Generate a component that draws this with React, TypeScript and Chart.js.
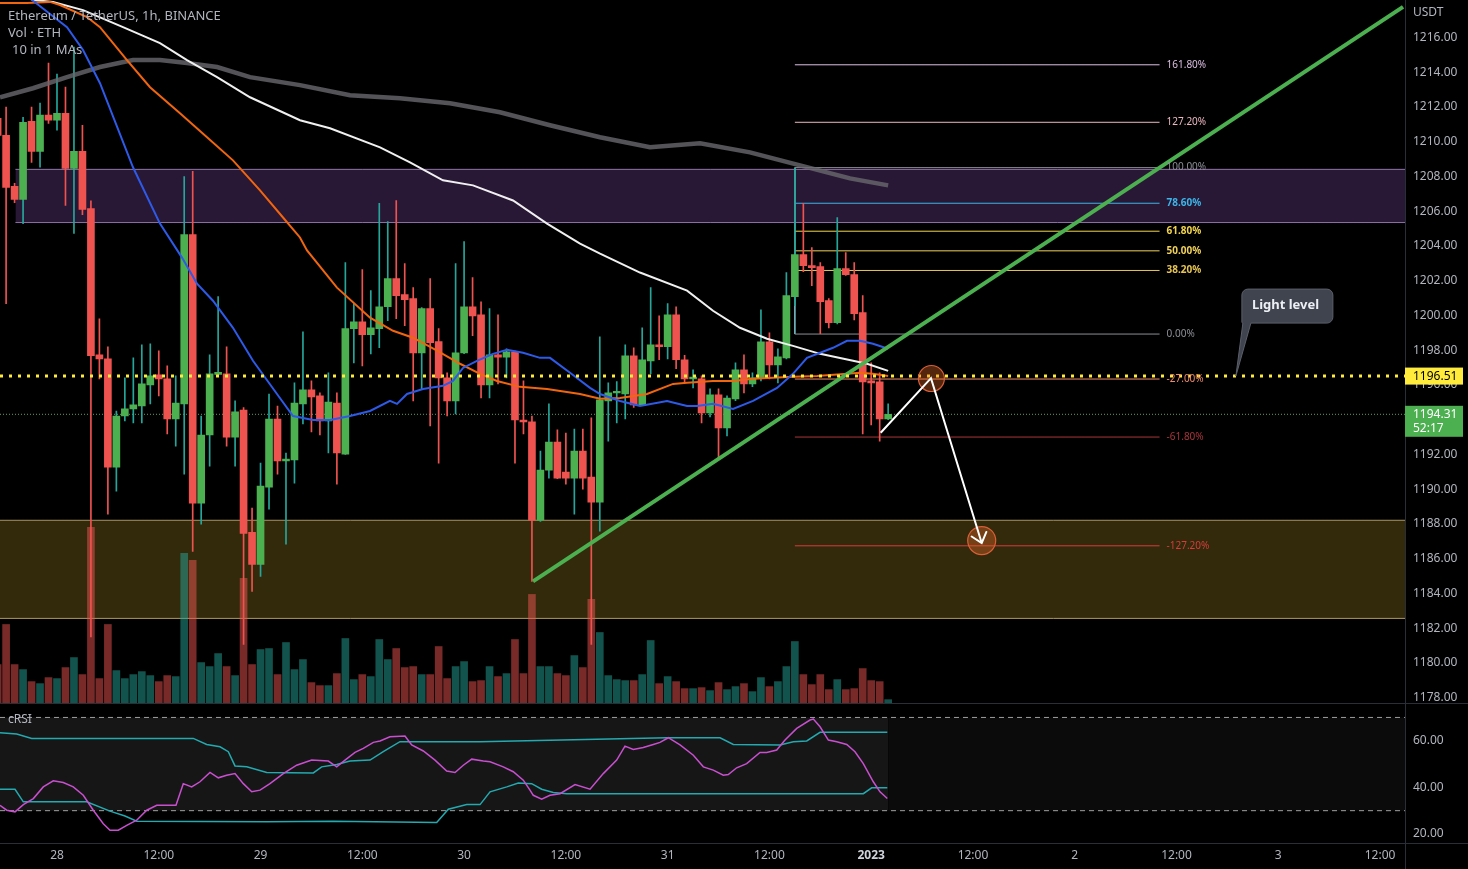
import React, { useEffect, useRef } from 'react';
import { Chart, registerables } from 'chart.js';

Chart.register(...registerables);
Chart.defaults.font.family = "'Noto Sans', 'Open Sans', sans-serif";

// ---------- DATA (hours relative to 28 Dec 2022 00:00, 1h candles) ----------
const firstCandleHour = -7; // 27 Dec 17:00

const opens = [1211.35, 1210.37, 1207.43, 1206.68, 1211.18, 1209.45, 1211.53, 1211.24, 1211.64, 1208.47, 1209.45, 1206.16, 1197.73, 1197.5, 1191.27, 1194.21, 1194.62, 1194.79, 1196.0, 1196.58, 1196.35, 1194.04, 1194.91, 1204.66, 1189.19, 1193.12, 1196.6, 1196.64, 1193.0, 1194.56, 1187.52, 1185.67, 1190.12, 1194.04, 1191.62, 1191.68, 1194.91, 1195.72, 1195.37, 1193.93, 1194.96, 1192.02, 1199.24, 1199.64, 1198.89, 1199.24, 1200.5, 1202.12, 1201.2, 1200.97, 1197.85, 1200.39, 1198.49, 1196.41, 1195.08, 1197.85, 1200.5, 1200.04, 1196.0, 1197.73, 1197.6, 1197.91, 1193.98, 1193.87, 1188.21, 1191.1, 1192.71, 1190.98, 1190.64, 1192.2, 1190.69, 1189.25, 1195.08, 1195.54, 1195.48, 1197.68, 1194.85, 1197.39, 1198.31, 1198.2, 1200.04, 1197.45, 1196.35, 1196.35, 1194.39, 1195.43, 1193.52, 1195.2, 1196.87, 1196.06, 1196.41, 1198.48, 1197.16, 1197.56, 1201.08, 1203.5, 1202.87, 1202.81, 1200.85, 1199.58, 1202.7, 1202.35, 1200.16, 1196.23, 1196.18, 1194.04];
const highs = [1212.0, 1211.99, 1207.6, 1211.41, 1211.99, 1212.22, 1214.53, 1213.89, 1213.14, 1215.45, 1210.95, 1206.6, 1199.81, 1198.2, 1194.5, 1196.41, 1197.56, 1198.31, 1198.37, 1197.97, 1197.1, 1196.52, 1208.0, 1208.29, 1194.21, 1197.73, 1201.08, 1198.2, 1195.08, 1194.7, 1188.91, 1191.5, 1195.48, 1194.79, 1192.08, 1196.12, 1199.06, 1196.23, 1195.54, 1196.7, 1195.54, 1203.04, 1200.68, 1202.64, 1201.43, 1206.45, 1205.41, 1206.62, 1202.99, 1201.6, 1200.45, 1202.12, 1199.24, 1196.7, 1202.99, 1204.26, 1202.18, 1200.79, 1200.39, 1200.04, 1198.08, 1197.95, 1196.23, 1194.21, 1192.2, 1194.91, 1193.41, 1193.23, 1193.46, 1193.46, 1194.1, 1198.77, 1196.12, 1196.2, 1198.31, 1198.14, 1199.29, 1201.6, 1199.98, 1200.68, 1200.5, 1197.7, 1196.87, 1196.52, 1195.77, 1195.77, 1195.37, 1197.27, 1197.73, 1196.7, 1200.33, 1199.0, 1198.08, 1202.47, 1208.47, 1206.45, 1203.91, 1203.04, 1200.97, 1205.64, 1203.62, 1203.04, 1201.14, 1197.27, 1196.7, 1194.91];
const lows = [1209.6, 1200.68, 1206.5, 1205.29, 1208.81, 1208.53, 1211.06, 1210.66, 1206.33, 1204.72, 1205.8, 1181.5, 1196.35, 1188.56, 1189.89, 1193.93, 1193.81, 1193.81, 1194.91, 1195.37, 1193.18, 1192.48, 1190.87, 1186.42, 1187.98, 1191.33, 1196.5, 1192.48, 1191.33, 1181.06, 1184.12, 1184.98, 1188.85, 1190.87, 1186.83, 1190.35, 1193.75, 1193.29, 1193.12, 1192.08, 1190.29, 1192.0, 1197.27, 1197.1, 1197.79, 1198.14, 1199.7, 1199.81, 1199.41, 1195.08, 1195.77, 1193.64, 1191.5, 1194.21, 1194.33, 1197.8, 1198.83, 1195.25, 1195.25, 1196.06, 1196.41, 1191.5, 1193.18, 1184.69, 1188.15, 1190.64, 1190.6, 1190.29, 1188.56, 1190.0, 1181.06, 1187.58, 1192.77, 1193.81, 1194.04, 1194.7, 1194.8, 1196.64, 1197.45, 1197.5, 1196.93, 1196.12, 1195.83, 1193.81, 1194.16, 1191.79, 1193.06, 1195.1, 1195.54, 1195.9, 1196.23, 1196.35, 1196.12, 1197.5, 1200.56, 1202.52, 1201.72, 1198.95, 1199.29, 1199.52, 1202.3, 1199.75, 1193.18, 1193.7, 1192.77, 1194.0];
const closes = [1210.37, 1207.37, 1206.68, 1211.12, 1209.45, 1211.53, 1211.24, 1211.64, 1208.47, 1209.45, 1206.1, 1197.68, 1197.5, 1191.27, 1194.21, 1194.62, 1194.85, 1196.06, 1196.52, 1196.35, 1194.04, 1194.96, 1204.66, 1189.19, 1193.12, 1196.64, 1196.72, 1193.0, 1194.45, 1187.46, 1185.67, 1190.18, 1194.04, 1191.62, 1191.73, 1194.96, 1195.72, 1195.31, 1193.93, 1195.02, 1192.08, 1199.24, 1199.64, 1198.89, 1199.29, 1200.5, 1202.12, 1201.14, 1200.91, 1197.85, 1200.39, 1198.43, 1196.41, 1195.08, 1197.85, 1200.5, 1199.98, 1196.0, 1197.73, 1197.6, 1197.91, 1193.98, 1193.87, 1188.21, 1191.1, 1192.71, 1190.64, 1190.64, 1192.2, 1190.64, 1189.25, 1195.14, 1195.54, 1195.6, 1197.68, 1194.85, 1197.45, 1198.31, 1198.2, 1200.04, 1197.45, 1196.35, 1196.45, 1194.39, 1195.43, 1193.52, 1195.25, 1196.87, 1196.06, 1196.41, 1198.48, 1197.16, 1197.62, 1201.14, 1203.5, 1202.87, 1202.75, 1200.79, 1199.58, 1202.7, 1202.35, 1200.1, 1196.18, 1196.12, 1194.04, 1194.31];
// volume (thousand ETH)
const volumes = [3.8, 7.8, 3.8, 3.3, 2.1, 1.9, 2.5, 2.4, 3.5, 4.5, 2.8, 17.5, 2.4, 7.8, 3.2, 2.4, 2.8, 3.1, 2.7, 2.1, 2.7, 2.6, 14.9, 14.2, 4.0, 3.6, 4.9, 3.6, 2.7, 12.4, 3.8, 5.3, 5.4, 2.8, 6.0, 3.3, 4.3, 2.0, 1.7, 1.7, 2.9, 6.4, 2.3, 2.8, 2.6, 6.3, 4.3, 5.4, 3.5, 3.6, 2.8, 2.8, 5.6, 2.4, 3.6, 4.1, 2.1, 2.2, 3.6, 2.6, 2.9, 6.3, 2.9, 10.8, 3.6, 3.6, 2.9, 2.7, 4.7, 3.5, 10.3, 7.0, 2.7, 2.3, 2.2, 2.2, 2.8, 6.2, 1.9, 2.6, 2.1, 1.4, 1.4, 1.5, 1.2, 2.0, 1.3, 1.6, 1.9, 1.1, 2.5, 1.6, 2.1, 3.6, 6.1, 2.8, 1.8, 2.8, 1.3, 2.3, 1.3, 1.4, 3.4, 2.2, 2.1, 0.3];

// moving averages [hour, price]
const maFast = [[-4.13, 1219.6], [-2.95, 1218.16], [1.18, 1216.6], [3.07, 1215.28], [5.07, 1213.37], [8.96, 1208.53], [12.14, 1205.29], [14.74, 1203.33], [16.51, 1201.83], [18.39, 1200.85], [20.75, 1199.29], [23.11, 1197.39], [25.94, 1195.48], [27.83, 1194.21], [30.19, 1193.98], [32.19, 1193.98], [34.55, 1194.21], [36.91, 1194.5], [39.26, 1195.08], [40.09, 1194.91], [41.27, 1195.48], [43.15, 1195.77], [45.51, 1195.95], [46.69, 1196.23], [47.87, 1196.98], [49.52, 1197.39], [51.41, 1197.79], [53.06, 1198.02], [54.95, 1197.85], [56.95, 1197.56], [58.13, 1197.56], [60.49, 1196.7], [62.85, 1195.83], [64.03, 1195.48], [66.39, 1195.08], [68.74, 1194.79], [71.93, 1195.08], [74.29, 1194.79], [75.47, 1194.79], [77.35, 1194.91], [79.71, 1194.62], [82.07, 1195.08], [84.9, 1195.83], [86.78, 1196.64], [88.43, 1197.56], [91.5, 1198.14], [93.15, 1198.54], [94.68, 1198.54], [96.21, 1198.37], [98.0, 1198.08]];
const maMid = [[-6.72, 1217.99], [-3.54, 1217.99], [-0.83, 1218.05], [0.35, 1217.87], [3.54, 1217.18], [5.07, 1216.6], [8.25, 1214.7], [10.97, 1213.14], [14.5, 1211.64], [17.69, 1210.26], [20.75, 1208.93], [23.94, 1207.2], [26.65, 1205.64], [28.65, 1204.49], [29.48, 1203.74], [33.01, 1201.6], [36.91, 1199.87], [39.62, 1199.12], [41.98, 1198.72], [44.81, 1197.97], [47.52, 1197.22], [49.88, 1196.64], [51.88, 1196.23], [54.59, 1195.89], [57.78, 1195.77], [61.67, 1195.48], [64.03, 1195.2], [66.38, 1195.25], [69.57, 1195.48], [72.64, 1196.06], [74.29, 1196.12], [77.35, 1196.23], [79.71, 1196.23], [82.07, 1196.35], [84.43, 1196.41], [86.78, 1196.47], [89.61, 1196.52], [93.15, 1196.64], [94.68, 1196.7], [96.21, 1196.64], [98.0, 1196.52]];
const maSlow = [[-5.54, 1218.74], [-2.83, 1218.16], [-0.47, 1218.05], [3.07, 1217.58], [7.78, 1216.6], [12.14, 1215.68], [15.33, 1214.7], [18.87, 1213.72], [22.76, 1212.56], [28.65, 1211.24], [32.19, 1210.78], [38.09, 1209.68], [41.62, 1208.81], [45.51, 1207.78], [49.05, 1207.49], [53.77, 1206.62], [57.78, 1205.29], [61.67, 1204.14], [64.03, 1203.56], [68.74, 1202.47], [74.29, 1201.43], [77.35, 1200.27], [80.53, 1199.29], [83.72, 1198.66], [86.78, 1198.25], [89.97, 1197.79], [93.86, 1197.39], [95.51, 1197.22], [98.0, 1196.81]];
const ma200 = [[-6.72, 1212.56], [-2.83, 1213.08], [1.18, 1213.72], [5.07, 1214.3], [8.96, 1214.7], [12.14, 1214.7], [15.33, 1214.53], [18.87, 1214.3], [22.76, 1213.72], [28.65, 1213.26], [34.55, 1212.68], [40.44, 1212.51], [46.34, 1212.22], [52.23, 1211.7], [58.13, 1210.95], [64.03, 1210.26], [69.92, 1209.68], [75.82, 1209.91], [81.71, 1209.39], [87.61, 1208.64], [93.5, 1207.89], [98.0, 1207.49]];

// cRSI [hour, value]
const crsi = [[-6.72, 32.3], [-5.93, 30.2], [-4.95, 29.5], [-3.97, 32.6], [-2.79, 35.2], [-1.62, 40.2], [-0.44, 42.8], [0.74, 42.1], [1.92, 40.2], [3.1, 36.6], [4.28, 30.2], [5.46, 24.4], [6.25, 21.6], [7.23, 21.6], [8.22, 23.7], [9.4, 25.9], [10.58, 30.2], [11.76, 32.3], [12.93, 32.3], [14.03, 32.3], [14.89, 41.6], [15.88, 40.2], [16.86, 42.4], [18.04, 46.4], [19.02, 44.1], [20.01, 45.2], [20.99, 45.9], [21.97, 41.6], [22.96, 38.1], [23.94, 38.8], [25.11, 41.6], [26.68, 45.9], [28.26, 49.5], [30.03, 51.7], [31.99, 51.3], [32.98, 48.8], [33.96, 51.7], [35.14, 55.0], [36.12, 56.7], [37.3, 59.3], [38.09, 59.9], [39.26, 61.7], [41.03, 62.0], [41.82, 58.2], [43.19, 55.6], [44.57, 51.7], [45.95, 47.0], [46.93, 46.4], [47.91, 49.5], [48.9, 52.1], [50.27, 51.3], [51.06, 51.0], [52.62, 48.8], [53.8, 46.7], [54.98, 43.1], [55.77, 38.8], [56.16, 36.6], [57.15, 34.9], [58.13, 36.6], [59.31, 37.3], [61.08, 41.2], [62.85, 39.2], [64.41, 45.9], [65.99, 51.7], [66.97, 57.7], [67.95, 56.3], [69.13, 57.1], [70.31, 58.4], [71.1, 59.3], [72.08, 61.3], [73.46, 58.2], [75.03, 53.8], [76.21, 48.8], [77.38, 47.4], [78.56, 45.2], [79.15, 45.5], [80.14, 48.4], [81.32, 50.2], [82.89, 55.0], [83.68, 55.0], [84.86, 56.0], [85.84, 60.3], [87.22, 65.3], [88.79, 68.9], [89.18, 69.3], [89.97, 66.0], [90.95, 60.3], [91.94, 59.6], [93.12, 58.4], [94.09, 55.3], [95.07, 50.2], [96.25, 42.4], [97.04, 38.1], [97.9, 35.2]];
const crsiUpper = [[-6.72, 63.4], [-4.75, 62.9], [-2.98, 61.0], [16.07, 61.0], [17.65, 58.4], [19.22, 57.4], [20.2, 55.3], [20.99, 49.2], [22.37, 48.8], [24.73, 46.4], [30.22, 46.2], [31.21, 48.8], [32.98, 49.8], [34.55, 51.3], [36.91, 51.7], [38.47, 55.3], [40.44, 59.6], [49.88, 59.6], [71.89, 61.3], [78.18, 61.3], [79.74, 58.4], [85.25, 58.2], [86.82, 59.6], [88.4, 59.9], [89.97, 63.6], [97.9, 63.6]];
const crsiLower = [[-6.72, 39.2], [-4.95, 39.2], [-3.97, 33.8], [3.5, 33.8], [6.25, 29.8], [8.02, 27.7], [9.4, 25.5], [24.73, 25.2], [32.58, 25.5], [44.77, 24.9], [46.14, 30.6], [48.31, 32.6], [49.88, 32.6], [51.06, 38.1], [53.03, 40.2], [54.39, 41.9], [55.97, 41.6], [57.15, 39.2], [58.52, 37.8], [60.1, 37.3], [95.07, 37.3], [96.06, 39.8], [97.9, 39.8]];
const rsiBands = [70, 30];

// fibonacci retracement (drawn from hour 87 to hour 130)
const fibLabels = ['161.80%', '127.20%', '100.00%', '78.60%', '61.80%', '50.00%', '38.20%', '0.00%', '-27.00%', '-61.80%', '-127.20%'];
const fibPrices = [1214.43, 1211.12, 1208.51, 1206.46, 1204.85, 1203.72, 1202.59, 1198.93, 1196.34, 1193.0, 1186.74];
const fibRange = [87, 130];

// zones
const supplyZone = { from: -4.9, top: 1208.41, bottom: 1205.35 };
const demandZone = { top: 1188.21, bottom: 1182.56 };

// levels & drawings
const lightLevel = 1196.51;
const lastPrice = 1194.31;
const countdown = '52:17';
const trendline = [[56.13, 1184.69], [158.71, 1217.76]];
const arrowPath = [[97.12, 1193.25], [103.05, 1196.39], [109.03, 1186.9]];
const targetCircles = [[103.1, 1196.37], [109.03, 1187.04]];
const calloutAnchorHour = 139;
const calloutText = 'Light level';

// axes
const timeTickHours = [0, 12, 24, 36, 48, 60, 72, 84, 96, 108, 120, 132, 144, 156];
const timeTickLabels = ['28', '12:00', '29', '12:00', '30', '12:00', '31', '12:00', '2023', '12:00', '2', '12:00', '3', '12:00'];
const priceTicks = [1178, 1180, 1182, 1184, 1186, 1188, 1190, 1192, 1194, 1196, 1198, 1200, 1202, 1204, 1206, 1208, 1210, 1212, 1214, 1216];
const rsiTicks = [20, 40, 60];

// ---------- STYLE ----------
const X_MIN = -6.72, X_MAX = 158.94;
const P_MIN = 1177.71, P_MAX = 1218.16;
const R_MIN = 16.13, R_MAX = 76.34;
const UP = '#4caf50', DOWN = '#ef5350', UP_WICK = '#26a69a';
const TEXT = '#b2b5be';
const SEP = '#2a2e39';
const fibColors = ['#dcbfe2', '#ecb7c2', '#8d8f96', '#3ab6e8', '#f2d54a', '#efd15a', '#e6c552', '#8d8f96', '#f08a6a', '#a8353a', '#d63c3c'];
const fibBold = [false, false, false, true, true, true, true, false, false, false, false];

function pts(arr: number[][]) {
  return arr.map(([x, y]) => ({ x, y }));
}

function noPad(s: any) {
  s.paddingTop = 0;
  s.paddingBottom = 0;
  s.paddingLeft = 0;
  s.paddingRight = 0;
}

export default function App() {
  const ref = useRef<HTMLCanvasElement>(null);

  useEffect(() => {
    const hours = opens.map((_, i) => firstCandleHour + i);
    const isUp = opens.map((o, i) => closes[i] >= o);

    const line = (data: any[], color: string, width: number, extra: any = {}) => ({
      type: 'line',
      data,
      borderColor: color,
      borderWidth: width,
      pointRadius: 0,
      tension: 0,
      fill: false,
      ...extra,
    });

    const datasets: any[] = [];
    // supply zone
    datasets.push(line([{ x: supplyZone.from, y: supplyZone.top }, { x: X_MAX, y: supplyZone.top }], 'rgba(186,150,215,0.75)', 1, { fill: '+1', backgroundColor: 'rgba(150,85,200,0.27)', order: 100 }));
    datasets.push(line([{ x: supplyZone.from, y: supplyZone.bottom }, { x: X_MAX, y: supplyZone.bottom }], 'rgba(186,150,215,0.75)', 1, { order: 100 }));
    // demand zone
    datasets.push(line([{ x: X_MIN - 1, y: demandZone.top }, { x: X_MAX, y: demandZone.top }], 'rgba(215,190,130,0.75)', 1, { fill: '+1', backgroundColor: 'rgba(255,212,60,0.2)', order: 100 }));
    datasets.push(line([{ x: X_MIN - 1, y: demandZone.bottom }, { x: X_MAX, y: demandZone.bottom }], 'rgba(215,190,130,0.75)', 1, { order: 100 }));
    // rsi band fills
    const lastH = hours[hours.length - 1];
    datasets.push(line([{ x: X_MIN, y: rsiBands[0] }, { x: lastH, y: rsiBands[0] }], 'transparent', 0, { yAxisID: 'yRsi', fill: '+1', backgroundColor: 'rgba(255,255,255,0.085)', order: 99 }));
    datasets.push(line([{ x: X_MIN, y: rsiBands[1] }, { x: lastH, y: rsiBands[1] }], 'transparent', 0, { yAxisID: 'yRsi', order: 99 }));
    datasets.push(line([{ x: lastH, y: rsiBands[0] }, { x: X_MAX, y: rsiBands[0] }], 'transparent', 0, { yAxisID: 'yRsi', fill: '+1', backgroundColor: 'rgba(255,255,255,0.045)', order: 99 }));
    datasets.push(line([{ x: lastH, y: rsiBands[1] }, { x: X_MAX, y: rsiBands[1] }], 'transparent', 0, { yAxisID: 'yRsi', order: 99 }));
    rsiBands.forEach((b) => {
      datasets.push(line([{ x: X_MIN, y: b }, { x: X_MAX, y: b }], 'rgba(210,210,210,0.75)', 1, { yAxisID: 'yRsi', borderDash: [5, 4], order: 98 }));
    });
    // volume
    datasets.push({
      type: 'bar',
      yAxisID: 'yVol',
      data: hours.map((h, i) => ({ x: h, y: volumes[i] })),
      backgroundColor: isUp.map((u) => (u ? 'rgba(38,166,154,0.5)' : 'rgba(239,83,80,0.5)')),
      barThickness: 7,
      grouped: false,
      order: 90,
    });
    // fib lines
    fibPrices.forEach((p, i) => {
      datasets.push(line([{ x: fibRange[0], y: p }, { x: fibRange[1], y: p }], fibColors[i], 1, { order: 80 }));
    });
    datasets.push(line([{ x: fibRange[0], y: fibPrices[2] }, { x: fibRange[0], y: fibPrices[7] }], 'rgba(120,195,205,0.85)', 1, { order: 80 }));
    // current price dotted line
    datasets.push(line([{ x: X_MIN, y: lastPrice }, { x: X_MAX, y: lastPrice }], 'rgba(110,190,110,0.85)', 1, { borderDash: [1, 2], order: 70 }));
    // candles
    datasets.push({
      type: 'bar',
      data: hours.map((h, i) => ({ x: h, y: [lows[i], highs[i]] })),
      backgroundColor: isUp.map((u) => (u ? UP_WICK : DOWN)),
      barThickness: 1,
      grouped: false,
      order: 50,
    });
    datasets.push({
      type: 'bar',
      data: hours.map((h, i) => ({ x: h, y: [opens[i], closes[i]] })),
      backgroundColor: isUp.map((u) => (u ? UP : DOWN)),
      barThickness: 7,
      minBarLength: 1.5,
      grouped: false,
      order: 49,
    });
    // MAs
    datasets.push(line(pts(ma200), 'rgba(105,105,110,0.8)', 4.5, { order: 40 }));
    datasets.push(line(pts(maSlow), '#f0f0f0', 2, { order: 39 }));
    datasets.push(line(pts(maMid), '#f0650e', 2, { order: 38 }));
    datasets.push(line(pts(maFast), '#2d5ae8', 2, { order: 37 }));
    // cRSI
    datasets.push(line(pts(crsiUpper), '#23aab0', 1.5, { yAxisID: 'yRsi', order: 33 }));
    datasets.push(line(pts(crsiLower), '#23aab0', 1.5, { yAxisID: 'yRsi', order: 33 }));
    datasets.push(line(pts(crsi), '#c94fd0', 1.5, { yAxisID: 'yRsi', order: 32 }));
    // trendline
    datasets.push(line(pts(trendline), '#4cb050', 4, { order: 20 }));
    // light level dotted
    datasets.push(line([{ x: X_MIN, y: lightLevel }, { x: X_MAX, y: lightLevel }], '#ffeb3b', 3, { borderDash: [3, 6], order: 19 }));
    // circles
    datasets.push({
      type: 'line',
      data: pts(targetCircles),
      showLine: false,
      pointRadius: [13, 14],
      pointBackgroundColor: 'rgba(235,105,40,0.36)',
      pointBorderColor: '#d95f38',
      pointBorderWidth: 1.2,
      order: 11,
    });
    // arrow
    const arrowIndex = datasets.length;
    datasets.push(line(pts(arrowPath), '#ffffff', 2, { order: 10 }));

    const overlay = {
      id: 'overlay',
      beforeDraw(chart: any) {
        const { ctx, width, height } = chart;
        ctx.save();
        ctx.fillStyle = '#000000';
        ctx.fillRect(0, 0, width, height);
        ctx.restore();
      },
      afterDatasetsDraw(chart: any) {
        const { ctx } = chart;
        const meta = chart.getDatasetMeta(arrowIndex);
        const n = meta.data.length;
        const a = meta.data[n - 2];
        const b = meta.data[n - 1];
        const ang = Math.atan2(a.y - b.y, a.x - b.x);
        const len = 12;
        const spread = (40 * Math.PI) / 180;
        ctx.save();
        ctx.strokeStyle = '#ffffff';
        ctx.lineWidth = 2;
        ctx.lineCap = 'round';
        ctx.beginPath();
        ctx.moveTo(b.x + len * Math.cos(ang + spread), b.y + len * Math.sin(ang + spread));
        ctx.lineTo(b.x, b.y);
        ctx.lineTo(b.x + len * Math.cos(ang - spread), b.y + len * Math.sin(ang - spread));
        ctx.stroke();
        ctx.restore();
      },
      afterDraw(chart: any) {
        const { ctx, width, height } = chart;
        const xs = chart.scales.x;
        const ys = chart.scales.y;
        const yr = chart.scales.yRsi;
        ctx.save();
        // separators
        ctx.strokeStyle = SEP;
        ctx.lineWidth = 1;
        ctx.beginPath();
        const ax = Math.round(ys.left) + 0.5;
        ctx.moveTo(ax, 0);
        ctx.lineTo(ax, height);
        const sp = Math.round(yr.top) + 0.5;
        ctx.moveTo(0, sp);
        ctx.lineTo(width, sp);
        const bt = Math.round(xs.top) + 0.5;
        ctx.moveTo(0, bt);
        ctx.lineTo(width, bt);
        ctx.stroke();

        // legend texts
        ctx.fillStyle = TEXT;
        ctx.textBaseline = 'middle';
        ctx.textAlign = 'left';
        ctx.font = "13px 'Noto Sans', sans-serif";
        ctx.fillText('Ethereum / TetherUS, 1h, BINANCE', 8, 16);
        ctx.fillText('Vol · ETH', 8, 33);
        ctx.fillText('10 in 1 MAs', 12, 50);
        ctx.font = "12px 'Noto Sans', sans-serif";
        ctx.fillText('cRSI', 8, yr.top + 17);
        ctx.fillText('USDT', ys.left + 8, 13);

        // fib labels
        const fx = xs.getPixelForValue(fibRange[1]) + 7;
        fibPrices.forEach((p, i) => {
          ctx.fillStyle = fibColors[i];
          ctx.font = (fibBold[i] ? 'bold ' : '') + "10px 'Noto Sans', sans-serif";
          ctx.fillText(fibLabels[i], fx, ys.getPixelForValue(p));
        });

        // callout
        const tx = xs.getPixelForValue(calloutAnchorHour);
        const ty = ys.getPixelForValue(lightLevel);
        const bx = tx + 6, by = ty - 87, bw = 91, bh = 34, r = 6;
        ctx.fillStyle = '#40444e';
        ctx.strokeStyle = '#5b5f6b';
        ctx.lineWidth = 1;
        ctx.beginPath();
        ctx.moveTo(bx + r, by);
        ctx.lineTo(bx + bw - r, by);
        ctx.arcTo(bx + bw, by, bx + bw, by + r, r);
        ctx.lineTo(bx + bw, by + bh - r);
        ctx.arcTo(bx + bw, by + bh, bx + bw - r, by + bh, r);
        ctx.lineTo(bx + 9, by + bh);
        ctx.lineTo(tx, ty);
        ctx.lineTo(bx + 1, by + bh);
        ctx.arcTo(bx, by + bh, bx, by + bh - r, 1);
        ctx.lineTo(bx, by + r);
        ctx.arcTo(bx, by, bx + r, by, r);
        ctx.closePath();
        ctx.fill();
        ctx.stroke();
        ctx.fillStyle = '#eceff4';
        ctx.font = "bold 13px 'Noto Sans', sans-serif";
        ctx.fillText(calloutText, bx + 10, by + 16);

        // price axis labels
        const lx = ys.left;
        ctx.fillStyle = '#ffeb3b';
        ctx.fillRect(lx, ty - 8.5, 58, 17);
        ctx.fillStyle = '#000000';
        ctx.font = "12px 'Noto Sans', sans-serif";
        ctx.fillText(lightLevel.toFixed(2), lx + 8, ty + 0.5);
        const gy = ys.getPixelForValue(lastPrice);
        ctx.fillStyle = '#4caf50';
        ctx.fillRect(lx, gy - 8.5, 58, 31);
        ctx.fillStyle = '#ffffff';
        ctx.fillText(lastPrice.toFixed(2), lx + 8, gy + 0.5);
        ctx.fillText(countdown, lx + 8, gy + 14);
        ctx.restore();
      },
    };

    const tickFont = { size: 12 };
    const chart = new Chart(ref.current as HTMLCanvasElement, {
      type: 'bar',
      data: { datasets },
      options: {
        responsive: false,
        animation: false,
        devicePixelRatio: 1,
        events: [],
        layout: { padding: 0, autoPadding: false },
        plugins: { legend: { display: false }, tooltip: { enabled: false } },
        scales: {
          x: {
            type: 'linear',
            position: 'bottom',
            min: X_MIN,
            max: X_MAX,
            offset: false,
            grid: { display: false, drawTicks: false },
            border: { display: false },
            afterBuildTicks: (s: any) => {
              s.ticks = timeTickHours.map((v) => ({ value: v }));
            },
            afterFit: (s: any) => {
              s.height = 26;
              noPad(s);
            },
            ticks: {
              autoSkip: false,
              maxRotation: 0,
              padding: 5,
              color: (c: any) => (c.tick && c.tick.value === 96 ? '#d1d4dc' : TEXT),
              font: (c: any) => ({ size: 12, weight: c.tick && c.tick.value === 96 ? 'bold' : 'normal' }),
              callback: (_v: any, i: number) => timeTickLabels[i],
            },
          },
          y: {
            type: 'linear',
            position: 'right',
            stack: 'panes',
            stackWeight: 701,
            min: P_MIN,
            max: P_MAX,
            grid: { display: false, drawTicks: false },
            border: { display: false },
            afterBuildTicks: (s: any) => {
              s.ticks = priceTicks.map((v) => ({ value: v }));
            },
            afterFit: (s: any) => {
              s.width = 63;
              noPad(s);
            },
            ticks: { padding: 8, color: TEXT, font: tickFont, callback: (v: any) => Number(v).toFixed(2) },
          },
          yRsi: {
            type: 'linear',
            axis: 'y',
            position: 'right',
            stack: 'panes',
            stackWeight: 140,
            min: R_MIN,
            max: R_MAX,
            grid: { display: false, drawTicks: false },
            border: { display: false },
            afterBuildTicks: (s: any) => {
              s.ticks = rsiTicks.map((v) => ({ value: v }));
            },
            afterFit: (s: any) => {
              s.width = 63;
              noPad(s);
            },
            ticks: { padding: 8, color: TEXT, font: tickFont, callback: (v: any) => Number(v).toFixed(2) },
          },
          yVol: {
            type: 'linear',
            axis: 'y',
            position: 'right',
            display: false,
            min: -14.0,
            max: 70.1,
            afterFit: (s: any) => {
              noPad(s);
            },
          },
        },
      } as any,
      plugins: [overlay],
    } as any);
    return () => chart.destroy();
  }, []);

  return (
    <div style={{ position: 'fixed', left: 0, top: 0, width: 1468, height: 869, background: '#000' }}>
      <canvas ref={ref} width={1468} height={869} style={{ display: 'block', width: 1468, height: 869 }} />
    </div>
  );
}
